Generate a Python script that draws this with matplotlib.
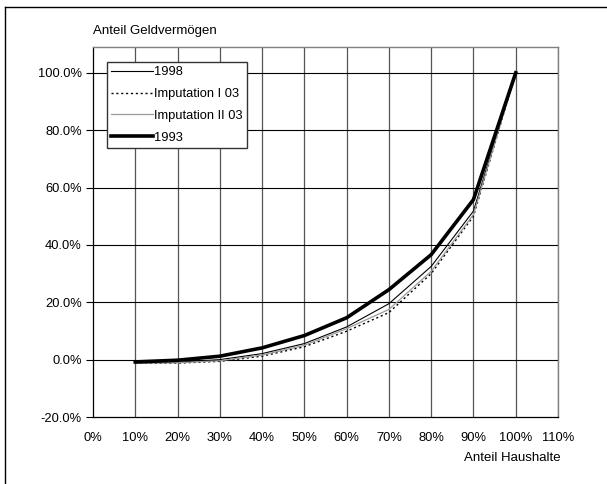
import matplotlib
matplotlib.use("Agg")
import matplotlib.pyplot as plt
from matplotlib.ticker import FuncFormatter
from matplotlib.lines import Line2D

plt.rcParams['font.family'] = ['Liberation Sans', 'DejaVu Sans']

households = [0.1, 0.2, 0.3, 0.4, 0.5, 0.6, 0.7, 0.8, 0.9, 1.0]
wealth_1998 = [-0.012, -0.009, 0.000, 0.021, 0.056, 0.114, 0.195, 0.325, 0.518, 1.0]
wealth_imp1 = [-0.013, -0.012, -0.006, 0.012, 0.045, 0.099, 0.164, 0.300, 0.500, 1.0]
wealth_imp2 = [-0.012, -0.011, -0.004, 0.016, 0.050, 0.108, 0.175, 0.308, 0.506, 1.0]
wealth_1993 = [-0.008, -0.002, 0.012, 0.041, 0.084, 0.146, 0.244, 0.366, 0.558, 1.0]
series_labels = ["1998", "Imputation I 03", "Imputation II 03", "1993"]
x_ticks = [0.0, 0.1, 0.2, 0.3, 0.4, 0.5, 0.6, 0.7, 0.8, 0.9, 1.0, 1.1]
y_ticks = [-0.2, 0.0, 0.2, 0.4, 0.6, 0.8, 1.0]

fig = plt.figure(figsize=(6.07, 4.84), dpi=100)
ax = fig.add_axes([93/607, (484-417)/484, 465/607, 370/484])

ax.set_xlim(0, 1.1)
ax.set_ylim(-0.2, 1.09)
ax.set_xticks(x_ticks)
ax.set_yticks(y_ticks)
ax.xaxis.set_major_formatter(FuncFormatter(lambda v, p: f"{v*100:.0f}%"))
ax.yaxis.set_major_formatter(FuncFormatter(lambda v, p: f"{v*100:.1f}%"))

for xv in x_ticks[1:]:
    ax.axvline(xv, color='#555555', lw=0.9, zorder=1)
for yv in y_ticks[1:]:
    ax.axhline(yv, color='#000000', lw=0.8, zorder=1)

ax.plot(households, wealth_1998, color='black', lw=0.8, zorder=3)
ax.plot(households, wealth_imp1, color='black', lw=1.0, ls=(0, (1.5, 2)), zorder=3)
ax.plot(households, wealth_imp2, color='#999999', lw=0.9, zorder=3)
ax.plot(households, wealth_1993, color='black', lw=2.6, zorder=4)

for s in ['top', 'right']:
    ax.spines[s].set_color('#808080')
    ax.spines[s].set_linewidth(1.0)
for s in ['left', 'bottom']:
    ax.spines[s].set_color('black')
    ax.spines[s].set_linewidth(0.9)

ax.tick_params(axis='y', direction='out', length=5, width=0.8, labelsize=9.3, pad=3)
ax.tick_params(axis='x', direction='out', length=0, labelsize=9.3, pad=11)

handles = [
    Line2D([], [], color='black', lw=0.8),
    Line2D([], [], color='black', lw=1.0, ls=(0, (1.5, 2))),
    Line2D([], [], color='#999999', lw=0.9),
    Line2D([], [], color='black', lw=2.6),
]
leg = ax.legend(handles, series_labels, loc='upper left', bbox_to_anchor=(0.03, 0.96),
                borderaxespad=0, frameon=True, fancybox=False, fontsize=9.3,
                handlelength=3.2, handletextpad=0.1, labelspacing=0.75,
                borderpad=0.35)
leg.get_frame().set_edgecolor('#333333')
leg.get_frame().set_linewidth(1.0)
leg.get_frame().set_alpha(1)

fig.text(93/607, 1 - 31/484, "Anteil Geldvermögen", fontsize=9.5, ha='left', va='center')
fig.text(561/607, 1 - 458/484, "Anteil Haushalte", fontsize=9.5, ha='right', va='center')

# outer chart frame (left and top visible)
fig.add_artist(Line2D([5/607, 5/607], [0, 1 - 7/484], transform=fig.transFigure, color='black', lw=1))
fig.add_artist(Line2D([5/607, 1], [1 - 7/484, 1 - 7/484], transform=fig.transFigure, color='black', lw=1))

fig.savefig("out.png", dpi=100)
